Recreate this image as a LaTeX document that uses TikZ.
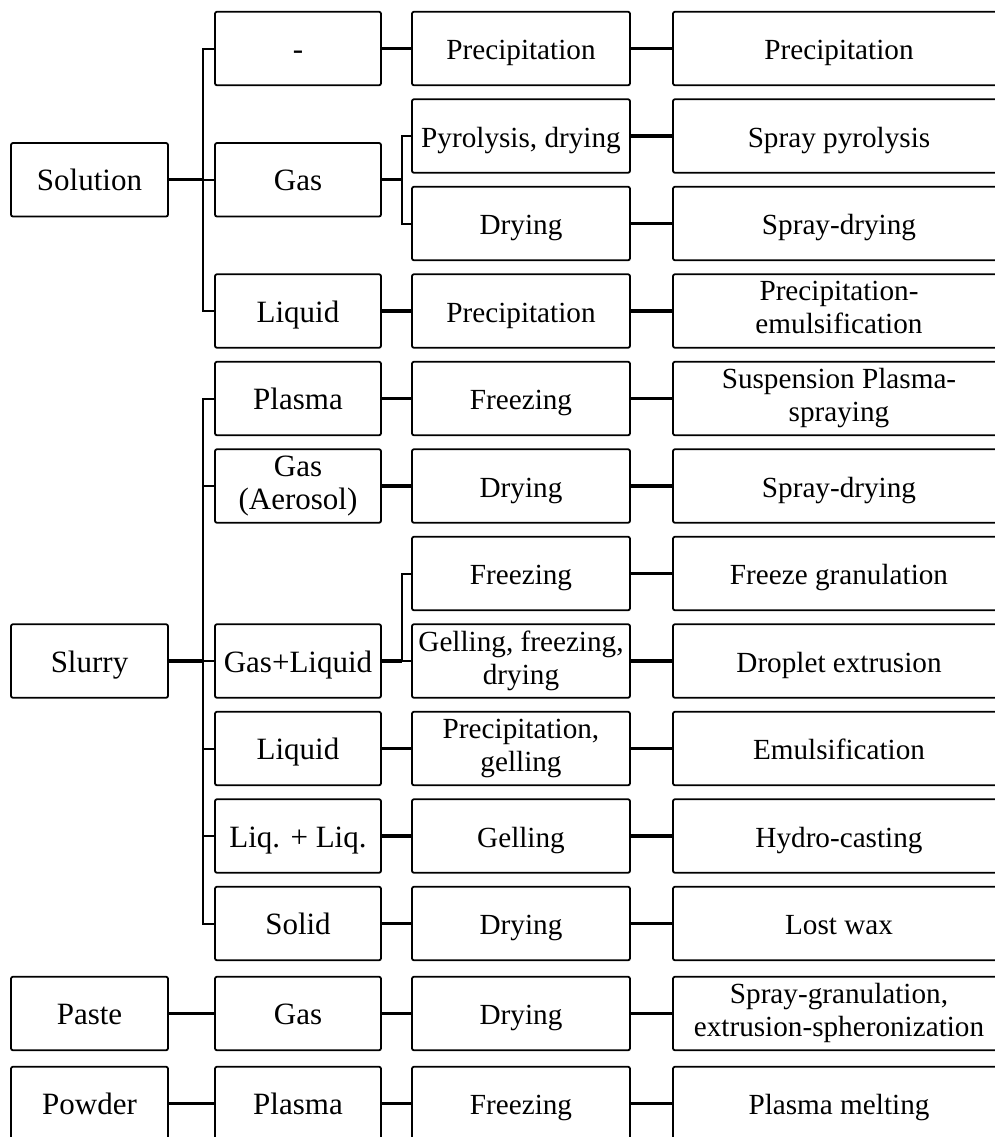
\documentclass[tikz,border=0pt]{standalone}
\usepackage{fontspec}
\setmainfont{Liberation Serif}
\usetikzlibrary{positioning,calc}

\begin{document}
\begin{tikzpicture}[node distance=7pt,
        base/.style={draw, rectangle, rounded corners=1pt, line width=0.9pt, minimum height=36.75pt, inner sep=1pt, outer sep=0pt, align=center,
            font=\fontsize{14.6pt}{16.5pt}\selectfont,
            execute at begin node={\rule[-3.5pt]{0pt}{18pt}}, execute at end node={\rule[-3.5pt]{0pt}{18pt}}},
        src/.style={base, minimum width=78.5pt, font=\fontsize{15.5pt}{16.5pt}\selectfont},
        medium/.style={base, minimum width=83pt, font=\fontsize{15.5pt}{16.5pt}\selectfont},
        proc/.style={base, minimum width=109pt},
        route/.style={base, minimum width=166pt},
        link/.style={line width=1.7pt},
        bus/.style={line width=1pt}]
        \useasboundingbox (0,0) rectangle (497.5pt,-568.5pt);
        \clip (0,0) rectangle (497.5pt,-568.5pt);

        % third column
        \node[proc] (precip) at (260.5pt,-24.25pt) {Precipitation};
        \node[proc, below=of precip] (pyrodry) {Pyrolysis, drying};
        \node[proc, below=of pyrodry] (drying) {Drying};
        \node[proc, below=of drying] (precipb) {Precipitation};
        \node[proc, below=of precipb] (freezea) {Freezing};
        \node[proc, below=of freezea] (dryb) {Drying};
        \node[proc, below=of dryb] (freezeb) {Freezing};
        \node[proc, below=of freezeb] (gelfreeze) {Gelling, freezing,\\drying};
        \node[proc, below=of gelfreeze] (precgel) {Precipitation,\\gelling};
        \node[proc, below=of precgel] (gelling) {Gelling};
        \node[proc, below=of gelling] (dryc) {Drying};
        \node[proc, below=8.25pt of dryc] (dryd) {Drying};
        \node[proc, below=8.25pt of dryd] (freezec) {Freezing};

        % processes
        \node[route, right=21.5pt of precip] (precipitation) {Precipitation};
        \node[route, right=21.5pt of pyrodry] (spraypyro) {Spray pyrolysis};
        \node[route, right=21.5pt of drying] (spraydry) {Spray-drying};
        \node[route, right=21.5pt of precipb] (precemul) {Precipitation-\\emulsification};
        \node[route, right=21.5pt of freezea] (sps) {Suspension Plasma-\\spraying};
        \node[route, right=21.5pt of dryb] (spraydryb) {Spray-drying};
        \node[route, right=21.5pt of freezeb] (freezegran) {Freeze granulation};
        \node[route, right=21.5pt of gelfreeze] (droplet) {Droplet extrusion};
        \node[route, right=21.5pt of precgel] (emulsif) {Emulsification};
        \node[route, right=21.5pt of gelling] (hydro) {Hydro-casting};
        \node[route, right=21.5pt of dryc] (lostwax) {Lost wax};
        \node[route, right=21.5pt of dryd] (spraygran) {Spray-granulation,\\extrusion-spheronization};
        \node[route, right=21.5pt of freezec] (plasmamelt) {Plasma melting};

        % second column
        \coordinate (gasmid) at ($(pyrodry.west)!.5!(drying.west)$);
        \node[medium, left=15.5pt of precip] (solnone) {-};
        \node[medium, left=15.5pt of gasmid] (solgas) {Gas};
        \node[medium, left=15.5pt of precipb] (solliq) {Liquid};
        \node[medium, left=15.5pt of freezea] (slplasma) {Plasma};
        \node[medium, left=15.5pt of dryb] (slaero) {Gas\\(Aerosol)};
        \node[medium, left=15.5pt of gelfreeze] (slgasliq) {Gas+Liquid};
        \node[medium, left=15.5pt of precgel] (slliq) {Liquid};
        \node[medium, left=15.5pt of gelling] (slliqliq) {Liq. + Liq.};
        \node[medium, left=15.5pt of dryc] (slsolid) {Solid};
        \node[medium, left=15.5pt of dryd] (pagas) {Gas};
        \node[medium, left=15.5pt of freezec] (poplasma) {Plasma};

        % feedstock
        \node[src, left=23.5pt of solgas] (solution) {Solution};
        \node[src, left=23.5pt of slgasliq] (slurry) {Slurry};
        \node[src, left=23.5pt of pagas] (paste) {Paste};
        \node[src, left=23.5pt of poplasma] (powder) {Powder};

        % solution tree
        \coordinate (solbus) at ($(solution.east)+(17.5pt,0)$);
        \draw[link] (solution) -- (solbus);
        \draw[bus] (solnone.west) -| (solbus) |- (solliq.west);
        \draw[bus] (solbus) -- (solgas);
        \coordinate (gasbus) at ($(solgas.east)+(10.5pt,0)$);
        \draw[link] (solgas) -- (gasbus);
        \draw[bus] (pyrodry.west) -| (gasbus) |- (drying.west);
        \draw[link] (solnone) -- (precip);
        \draw[link] (solliq) -- (precipb);

        % slurry tree
        \coordinate (slbus) at ($(slurry.east)+(17.5pt,0)$);
        \draw[link] (slurry) -- (slbus);
        \draw[bus] (slplasma.west) -| (slbus) |- (slsolid.west);
        \draw[bus] (slbus |- slaero.west) -- (slaero);
        \draw[bus] (slbus) -- (slgasliq);
        \draw[bus] (slbus |- slliq.west) -- (slliq);
        \draw[bus] (slbus |- slliqliq.west) -- (slliqliq);
        \coordinate (glbus) at ($(slgasliq.east)+(10.5pt,0)$);
        \draw[link] (slgasliq) -- (glbus);
        \draw[bus] (freezeb.west) -| (glbus) -- (gelfreeze);
        \draw[link] (slplasma) -- (freezea);
        \draw[link] (slaero) -- (dryb);
        \draw[link] (slliq) -- (precgel);
        \draw[link] (slliqliq) -- (gelling);
        \draw[link] (slsolid) -- (dryc);

        % paste and powder
        \draw[link] (paste) -- (pagas);
        \draw[link] (pagas) -- (dryd);
        \draw[link] (powder) -- (poplasma);
        \draw[link] (poplasma) -- (freezec);

        % to the processes
        \draw[link] (precip) -- (precipitation);
        \draw[link] (pyrodry) -- (spraypyro);
        \draw[link] (drying) -- (spraydry);
        \draw[link] (precipb) -- (precemul);
        \draw[link] (freezea) -- (sps);
        \draw[link] (dryb) -- (spraydryb);
        \draw[link] (freezeb) -- (freezegran);
        \draw[link] (gelfreeze) -- (droplet);
        \draw[link] (precgel) -- (emulsif);
        \draw[link] (gelling) -- (hydro);
        \draw[link] (dryc) -- (lostwax);
        \draw[link] (dryd) -- (spraygran);
        \draw[link] (freezec) -- (plasmamelt);
    \end{tikzpicture}
\end{document}
